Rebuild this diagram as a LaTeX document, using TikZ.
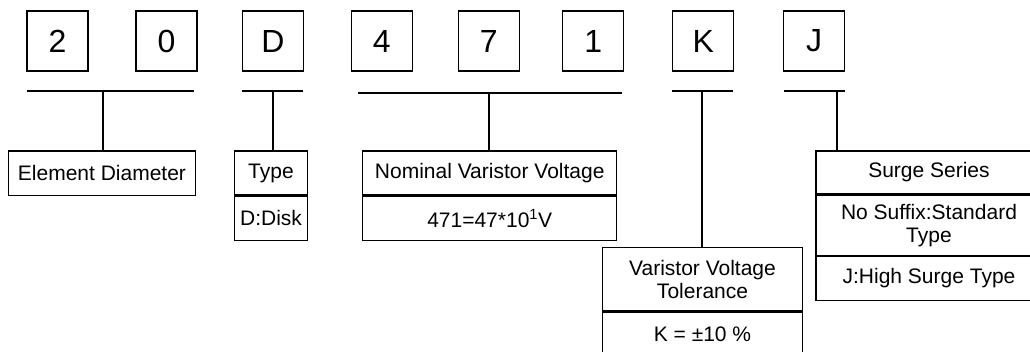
\documentclass[tikz,border=0pt]{standalone}
\usepackage{fontspec}
\setmainfont{Liberation Sans}
\usetikzlibrary{positioning}
\begin{document}
\begin{tikzpicture}[x=1pt,y=-1pt,line width=1.2pt,
  digit/.style={draw,minimum width=61pt,minimum height=60pt,inner sep=0pt,font=\fontsize{32}{36}\selectfont},
  cell/.style={draw,inner sep=0pt,align=center,font=\fontsize{21}{23}\selectfont},
  bar/.style={line width=2pt}]
\clip (0,0) rectangle (1030,351);
% code letters
\node[digit] (d1) at (57.5,41) {2};
\node[digit] (d2) at (166.5,41) {0};
\node[digit] (d3) at (273,41) {D};
\node[digit] (d4) at (381.7,41) {4};
\node[digit] (d5) at (488.7,41) {7};
\node[digit] (d6) at (593.3,41) {1};
\node[digit] (d7) at (703.3,41) {K};
\node[digit] (d8) at (814,41) {J};
% description boxes
\node[cell,minimum width=187.4pt,minimum height=44.7pt] (dia) at (102,173.3) {Element Diameter};
\node[cell,minimum width=73.4pt,minimum height=44pt] (type) at (271,173) {Type};
\node[cell,minimum width=73.4pt,minimum height=44.3pt,below=0pt of type] (typeval) {D:Disk};
\node[cell,minimum width=254pt,minimum height=44pt] (volt) at (489.7,173) {Nominal Varistor Voltage};
\node[cell,minimum width=254pt,minimum height=44.3pt,below=0pt of volt] (voltval) {471=47*10\textsuperscript{1}V};
\node[cell,minimum width=199.6pt,minimum height=63.7pt] (tol) at (702.5,279.2) {Varistor Voltage\\Tolerance};
\node[cell,minimum width=199.6pt,minimum height=44pt,below=0pt of tol] (tolval) {K = ±10 \%};
\node[cell,minimum width=226pt,minimum height=43pt] (surge) at (929,172.5) {Surge Series};
\node[cell,minimum width=226pt,minimum height=60pt,below=0pt of surge] (surgestd) {No Suffix:Standard\\Type};
\node[cell,minimum width=226pt,minimum height=43.7pt,below=0pt of surgestd] (surgehi) {J:High Surge Type};
% brackets
\draw[bar] (27,90.7) -- (194,90.7) (103,90.7) coordinate(s1) (s1) -- (s1 |- dia.north);
\draw[bar] (242,90.5) -- (303,90.5) (272.7,90.5) coordinate(s2) (s2) -- (s2 |- type.north);
\draw[bar] (358,92.7) -- (622,92.7) (489.3,92.7) coordinate(s3) (s3) -- (s3 |- volt.north);
\draw[bar] (672,90.5) -- (733,90.5) (702,90.5) coordinate(s4) (s4) -- (s4 |- tol.north);
\draw[bar] (784,90.5) -- (845,90.5) (836.7,90.5) coordinate(s5) (s5) -- (s5 |- surge.north);
\end{tikzpicture}
\end{document}
